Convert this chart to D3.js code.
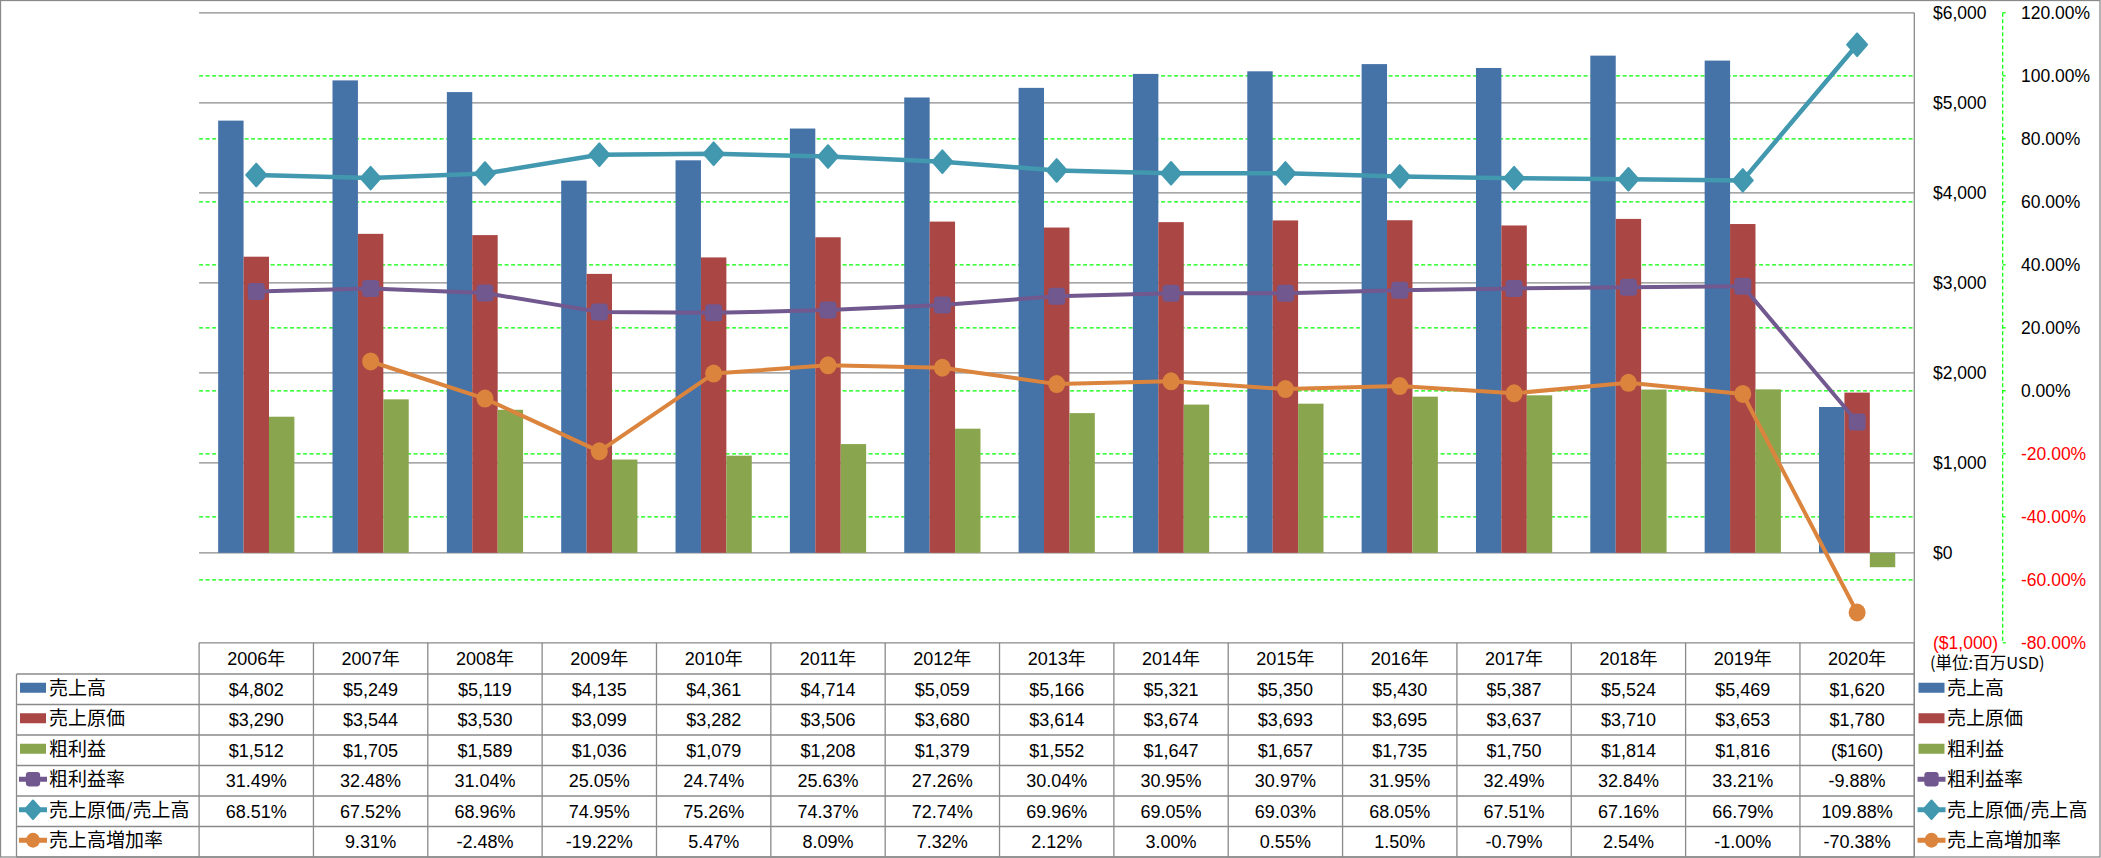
<!DOCTYPE html>
<html>
<head>
<meta charset="utf-8">
<script src="https://cdn.jsdelivr.net/npm/d3@7"></script>
<style>
  html, body { margin: 0; padding: 0; background: #fff; }
  svg { display: block; }
</style>
</head>
<body>
<script>
// ---------------- data ----------------
const years = ["2006年","2007年","2008年","2009年","2010年","2011年","2012年","2013年","2014年","2015年","2016年","2017年","2018年","2019年","2020年"];
const sales = [4802, 5249, 5119, 4135, 4361, 4714, 5059, 5166, 5321, 5350, 5430, 5387, 5524, 5469, 1620];
const cogs = [3290, 3544, 3530, 3099, 3282, 3506, 3680, 3614, 3674, 3693, 3695, 3637, 3710, 3653, 1780];
const grossProfit = [1512, 1705, 1589, 1036, 1079, 1208, 1379, 1552, 1647, 1657, 1735, 1750, 1814, 1816, -160];
const grossMarginRate = [31.49, 32.48, 31.04, 25.05, 24.74, 25.63, 27.26, 30.04, 30.95, 30.97, 31.95, 32.49, 32.84, 33.21, -9.88];
const cogsRatio = [68.51, 67.52, 68.96, 74.95, 75.26, 74.37, 72.74, 69.96, 69.05, 69.03, 68.05, 67.51, 67.16, 66.79, 109.88];
const salesGrowth = [null, 9.31, -2.48, -19.22, 5.47, 8.09, 7.32, 2.12, 3.00, 0.55, 1.50, -0.79, 2.54, -1.00, -70.38];
const seriesNames = ["売上高","売上原価","粗利益","粗利益率","売上原価/売上高","売上高増加率"];
const dollarTicks = [-1000, 0, 1000, 2000, 3000, 4000, 5000, 6000];
const pctTicks = [-80, -60, -40, -20, 0, 20, 40, 60, 80, 100, 120];
const unitLabel = "(単位:百万USD)";

// ---------------- layout / style ----------------
const W = 2101, H = 858;
const plotL = 199.1, plotR = 1914.3, plotT = 12.8, plotB = 642.8;
const tableTop = plotB, headerB = 674, tableB = 857;
const rowH = (tableB - headerB) / 6;
const legendL = 16.5;
const colors = {
  sales: "#4572A7", cogs: "#AA4643", gross: "#89A54E",
  gm: "#71588F", ratio: "#4198AF", growth: "#DB843D"
};
const gridGray = "#8a8a8a";
const numFont = "'Liberation Sans', Arial, 'Noto Sans CJK JP', sans-serif";
const cjkFont = "'Noto Sans CJK JP', 'Noto Sans CJK SC', sans-serif";

const svg = d3.select("body").append("svg")
  .attr("width", W).attr("height", H)
  .attr("viewBox", `0 0 ${W} ${H}`);

// scales
const x = d3.scaleBand().domain(years).range([plotL, plotR]).padding(0);
const bw = x.bandwidth();
const barW = bw / 4.5;
const yL = d3.scaleLinear().domain([-1000, 6000]).range([plotB, plotT]);
const yR = d3.scaleLinear().domain([-80, 120]).range([plotB, plotT]);

// outer border
svg.append("rect").attr("x", 0.5).attr("y", 0.5).attr("width", W - 1.5).attr("height", H - 1.5)
  .attr("fill", "none").attr("stroke", gridGray).attr("stroke-width", 1.3);

// ---------------- gridlines ----------------
const grid = svg.append("g");
grid.selectAll("line.gg").data(pctTicks.filter(t => t > -80 && t < 120)).join("line")
  .attr("class", "gg")
  .attr("x1", plotL).attr("x2", plotR)
  .attr("y1", d => yR(d)).attr("y2", d => yR(d))
  .attr("stroke", "#00FF00").attr("stroke-width", 1.3).attr("stroke-dasharray", "4,2.5");
grid.selectAll("line.dg").data(dollarTicks.filter(t => t >= 0)).join("line")
  .attr("class", "dg")
  .attr("x1", plotL).attr("x2", plotR)
  .attr("y1", d => yL(d)).attr("y2", d => yL(d))
  .attr("stroke", gridGray).attr("stroke-width", 1.3);

// ---------------- bars ----------------
const barSeries = [
  { vals: sales, color: colors.sales },
  { vals: cogs, color: colors.cogs },
  { vals: grossProfit, color: colors.gross }
];
const barsG = svg.append("g");
barSeries.forEach((s, i) => {
  barsG.selectAll(null).data(years.map((y, j) => ({ y, v: s.vals[j] }))).join("rect")
    .attr("x", d => x(d.y) + 0.75 * barW + i * barW)
    .attr("width", barW)
    .attr("y", d => Math.min(yL(d.v), yL(0)))
    .attr("height", d => Math.abs(yL(d.v) - yL(0)))
    .attr("fill", s.color);
});

// ---------------- lines ----------------
const cx = y => x(y) + bw / 2;
const lineGen = d3.line().defined(d => d.v != null).x(d => cx(d.y)).y(d => yR(d.v));

function diamondPath(w, h) {
  return `M0,${-h}L${w},0L0,${h}L${-w},0Z`;
}

const lineSeries = [
  { vals: grossMarginRate, color: colors.gm, marker: "square", width: 4 },
  { vals: cogsRatio, color: colors.ratio, marker: "diamond", width: 4.5 },
  { vals: salesGrowth, color: colors.growth, marker: "circle", width: 4 }
];

function drawMarker(g, type, color, scale) {
  scale = scale || 1;
  if (type === "square") {
    const s = 15 * scale;
    g.append("rect").attr("x", -s / 2).attr("y", -s / 2).attr("width", s).attr("height", s)
      .attr("rx", 2.5 * scale).attr("fill", color).attr("stroke", color).attr("stroke-width", 2);
  } else if (type === "diamond") {
    g.append("path").attr("d", diamondPath(10 * scale, 11.3 * scale))
      .attr("fill", color).attr("stroke", color).attr("stroke-width", 2).attr("stroke-linejoin", "round");
  } else {
    g.append("ellipse").attr("rx", 8.5 * scale).attr("ry", 9 * scale).attr("fill", color);
  }
}

lineSeries.forEach(s => {
  const data = years.map((y, j) => ({ y, v: s.vals[j] }));
  const g = svg.append("g");
  g.append("path").datum(data).attr("d", lineGen)
    .attr("fill", "none").attr("stroke", s.color).attr("stroke-width", s.width)
    .attr("stroke-linejoin", "round");
  data.filter(d => d.v != null).forEach(d => {
    const mg = g.append("g").attr("transform", `translate(${cx(d.y)},${yR(d.v)})`);
    drawMarker(mg, s.marker, s.color, 1);
  });
});

// ---------------- right axes ----------------
const fmtComma = d3.format(",");
const fmtDollar = v => v < 0 ? `($${fmtComma(-v)})` : `$${fmtComma(v)}`;
const fmtPct = v => v.toFixed(2) + "%";

// $ axis line (plot right border) extends down through table
svg.append("line").attr("x1", plotR).attr("x2", plotR).attr("y1", plotT).attr("y2", tableB)
  .attr("stroke", gridGray).attr("stroke-width", 1.3);

const dAxis = svg.append("g");
dAxis.selectAll("text").data(dollarTicks).join("text")
  .attr("x", 1933).attr("y", d => yL(d) + 6)
  .attr("font-family", numFont).attr("font-size", 17.5)
  .attr("fill", d => d < 0 ? "#FF0000" : "#000")
  .text(d => fmtDollar(d));

const pAxisX = 2002.7;
svg.append("line").attr("x1", pAxisX).attr("x2", pAxisX).attr("y1", plotT).attr("y2", plotB)
  .attr("stroke", "#00FF00").attr("stroke-width", 1.2).attr("stroke-dasharray", "4,2.5");
const pAxis = svg.append("g");
pAxis.selectAll("line").data(pctTicks).join("line")
  .attr("x1", pAxisX).attr("x2", pAxisX + 3).attr("y1", d => yR(d)).attr("y2", d => yR(d))
  .attr("stroke", "#00FF00").attr("stroke-width", 1.2);
pAxis.selectAll("text").data(pctTicks).join("text")
  .attr("x", 2021).attr("y", d => yR(d) + 6)
  .attr("font-family", numFont).attr("font-size", 17.5)
  .attr("fill", d => d < 0 ? "#FF0000" : "#000")
  .text(d => fmtPct(d));

// ---------------- data table ----------------
const tbl = svg.append("g");
const tStroke = gridGray, tW = 1.3;
// top of header
tbl.append("line").attr("x1", plotL).attr("x2", plotR).attr("y1", tableTop).attr("y2", tableTop)
  .attr("stroke", tStroke).attr("stroke-width", tW);
// horizontal row lines
const rowYs = d3.range(7).map(i => headerB + i * rowH);
tbl.selectAll("line.h").data(rowYs).join("line").attr("class", "h")
  .attr("x1", legendL).attr("x2", plotR).attr("y1", d => d).attr("y2", d => d)
  .attr("stroke", tStroke).attr("stroke-width", tW);
// vertical column lines
const colXs = years.map(y => x(y)).concat([plotR]);
tbl.selectAll("line.v").data(colXs).join("line").attr("class", "v")
  .attr("x1", d => d).attr("x2", d => d).attr("y1", tableTop).attr("y2", tableB)
  .attr("stroke", tStroke).attr("stroke-width", tW);
tbl.append("line").attr("x1", legendL).attr("x2", legendL).attr("y1", headerB).attr("y2", tableB)
  .attr("stroke", tStroke).attr("stroke-width", tW);

// header years
tbl.selectAll("text.yr").data(years).join("text").attr("class", "yr")
  .attr("x", d => cx(d)).attr("y", (tableTop + headerB) / 2 + 6.5)
  .attr("text-anchor", "middle").attr("font-family", numFont).attr("font-size", 18)
  .text(d => d);

const tableRows = [
  sales.map(fmtDollar),
  cogs.map(fmtDollar),
  grossProfit.map(fmtDollar),
  grossMarginRate.map(fmtPct),
  cogsRatio.map(fmtPct),
  salesGrowth.map(v => v == null ? "" : fmtPct(v))
];
tableRows.forEach((row, r) => {
  const cy = headerB + (r + 0.5) * rowH;
  tbl.selectAll(null).data(row).join("text")
    .attr("x", (d, j) => cx(years[j])).attr("y", cy + 6.5)
    .attr("text-anchor", "middle").attr("font-family", numFont).attr("font-size", 18)
    .text(d => d);
});

// legend keys (left in table, and right legend)
const keyDefs = [
  { type: "bar", color: colors.sales },
  { type: "bar", color: colors.cogs },
  { type: "bar", color: colors.gross },
  { type: "line", color: colors.gm, marker: "square" },
  { type: "line", color: colors.ratio, marker: "diamond" },
  { type: "line", color: colors.growth, marker: "circle" }
];
function drawKey(g, k, x0) {
  if (k.type === "bar") {
    g.append("rect").attr("x", x0).attr("y", -5).attr("width", 26).attr("height", 10).attr("fill", k.color);
  } else {
    g.append("line").attr("x1", x0 - 1).attr("x2", x0 + 27).attr("y1", 0).attr("y2", 0)
      .attr("stroke", k.color).attr("stroke-width", 5);
    const mg = g.append("g").attr("transform", `translate(${x0 + 13},0)`);
    drawMarker(mg, k.marker, k.color, 0.82);
  }
}
keyDefs.forEach((k, r) => {
  const cy = headerB + (r + 0.5) * rowH - 1.5;
  const gl = tbl.append("g").attr("transform", `translate(0,${cy})`);
  drawKey(gl, k, 20);
  gl.append("text").attr("x", 49).attr("y", 7).attr("font-family", cjkFont).attr("font-size", 19)
    .text(seriesNames[r]);
  const gr = svg.append("g").attr("transform", `translate(0,${cy})`);
  drawKey(gr, k, 1918.5);
  gr.append("text").attr("x", 1947).attr("y", 7).attr("font-family", cjkFont).attr("font-size", 19)
    .text(seriesNames[r]);
});

svg.append("text").attr("x", 1930).attr("y", 669).attr("font-family", cjkFont).attr("font-size", 16.5)
  .text(unitLabel);
</script>
</body>
</html>
